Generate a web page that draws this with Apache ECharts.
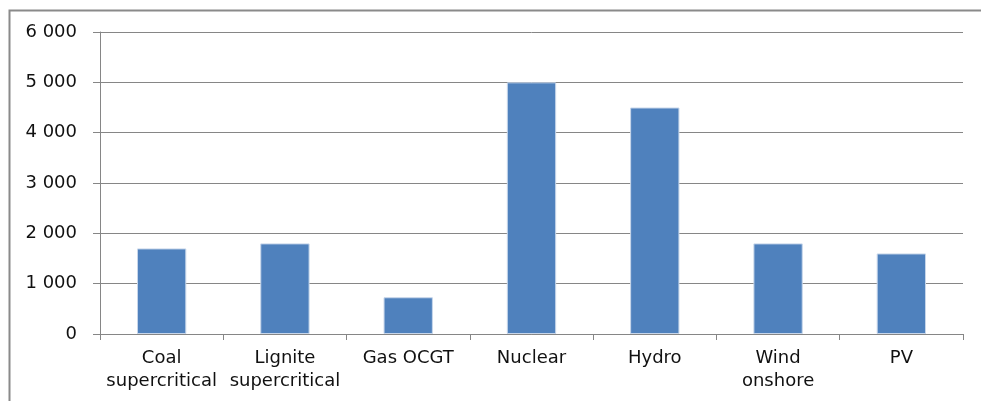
<!DOCTYPE html>
<html>
<head>
<meta charset="utf-8">
<script src="https://cdn.jsdelivr.net/npm/echarts@6/dist/echarts.min.js"></script>
<style>html,body{margin:0;padding:0;background:#fff}#c{width:981px;height:401px}</style>
</head>
<body>
<div id="c"></div>
<script>
const categories = ['Coal\nsupercritical', 'Lignite\nsupercritical', 'Gas OCGT', 'Nuclear', 'Hydro', 'Wind\nonshore', 'PV'];
const values = [1700, 1800, 730, 5000, 4500, 1800, 1600];
const yMin = 0, yMax = 6000, yInterval = 1000;

const chart = echarts.init(document.getElementById('c'), null, {renderer: 'canvas'});
const font = 'DejaVu Sans';
chart.setOption({
  animation: false,
  backgroundColor: '#fff',
  graphic: [{
    type: 'rect', silent: true,
    shape: {x: 9.5, y: 10.5, width: 1000, height: 500},
    style: {fill: 'none', stroke: '#8a8a8a', lineWidth: 2}
  }],
  grid: {left: 100, right: 18, top: 32, bottom: 67, containLabel: false},
  xAxis: {
    type: 'category',
    data: categories,
    axisLine: {lineStyle: {color: '#868686', width: 1}},
    axisTick: {show: true, length: 6, alignWithLabel: false, lineStyle: {color: '#868686'}},
    axisLabel: {color: '#111', fontFamily: font, fontSize: 18, margin: 13, lineHeight: 23, interval: 0}
  },
  yAxis: {
    type: 'value', min: yMin, max: yMax, interval: yInterval,
    axisLine: {show: true, lineStyle: {color: '#868686', width: 1}},
    axisTick: {show: true, length: 7, lineStyle: {color: '#868686'}},
    splitLine: {lineStyle: {color: '#868686', width: 1}},
    axisLabel: {
      color: '#111', fontFamily: font, fontSize: 18, margin: 23,
      formatter: v => String(v).replace(/\B(?=(\d{3})+(?!\d))/g, ' ')
    }
  },
  series: [{
    type: 'bar',
    data: values,
    barWidth: '40%',
    itemStyle: {color: '#4f81bd', borderColor: '#c7d6ea', borderWidth: 1}
  }]
});
</script>
</body>
</html>
